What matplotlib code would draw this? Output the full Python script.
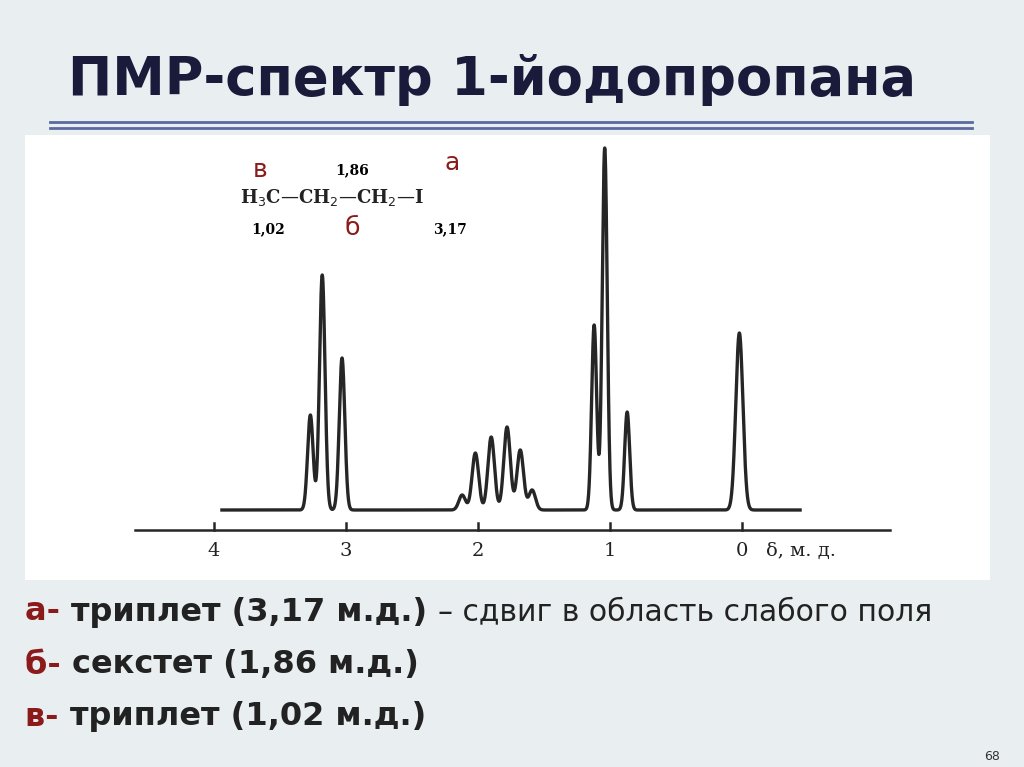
import numpy as np
import matplotlib
matplotlib.use("Agg")
import matplotlib.pyplot as plt

# Peak data: chemical shift (ppm) and relative height
peak_ppm = [3.27, 3.18, 3.03,
            2.12, 2.02, 1.90, 1.78, 1.68, 1.59,
            1.12, 1.04, 0.87,
            0.02]
peak_height = [95, 235, 152,
               15, 57, 73, 83, 60, 20,
               185, 362, 98,
               177]
peak_width = [0.021]*3 + [0.025]*6 + [0.019]*3 + [0.027]
tick_vals = [4, 3, 2, 1, 0]
tick_labels = ["4", "3", "2", "1", "0"]

fig = plt.figure(figsize=(10.24, 7.67), dpi=100)
fig.patch.set_facecolor("#e9eef0")

ax = fig.add_axes([25/1024, 1-580/767, 965/1024, 445/767])
ax.set_facecolor("white")
for s in ax.spines.values():
    s.set_visible(False)
ax.set_xticks([]); ax.set_yticks([])
ax.set_xlim((742-25)/132, (742-990)/132)
ax.set_ylim(0, 445)

baseline = 70
x = np.linspace(3.94, -0.44, 4000)
y = np.full_like(x, baseline, dtype=float)
for p, h, w in zip(peak_ppm, peak_height, peak_width):
    y += h * np.exp(-0.5*((x-p)/w)**2)
ax.plot(x, y, color="#262626", lw=2.4)

ax.plot([(742-135)/132, (742-890)/132], [50, 50], color="#262626", lw=1.8)
for t, lab in zip(tick_vals, tick_labels):
    ax.plot([t, t], [50, 57], color="#262626", lw=1.8)
    ax.text(t, 38, lab, ha="center", va="top", fontsize=14, family="DejaVu Serif", color="#222")
ax.text(-0.18, 38, "δ, м. д.", ha="left", va="top", fontsize=14, family="DejaVu Serif", color="#222")

def px(xp, yp):
    return (742-xp)/132, 580-yp
red = "#8b1a1a"
ax.text(*px(260, 170), "в", color=red, fontsize=18, ha="center", va="center")
ax.text(*px(452, 163), "а", color=red, fontsize=18, ha="center", va="center")
ax.text(*px(352, 228), "б", color=red, fontsize=18, ha="center", va="center")
ax.text(*px(352, 170), "1,86", fontsize=10, family="DejaVu Serif", ha="center", va="center", fontweight="bold")
ax.text(*px(268, 229), "1,02", fontsize=10, family="DejaVu Serif", ha="center", va="center", fontweight="bold")
ax.text(*px(450, 229), "3,17", fontsize=10, family="DejaVu Serif", ha="center", va="center", fontweight="bold")
ax.text(*px(240, 197), r"H$_3$C—CH$_2$—CH$_2$—I", fontsize=13, family="DejaVu Serif",
        ha="left", va="center", fontweight="bold", color="#222")

fig.text(68/1024, 1-80/767, "ПМР-спектр 1-йодопропана", fontsize=38, fontweight="bold",
         color="#1a1a3a", ha="left", va="center")
fig.add_artist(plt.Line2D([50/1024, 972/1024], [1-122/767]*2, color="#5a6aa0", lw=2))
fig.add_artist(plt.Line2D([50/1024, 972/1024], [1-128/767]*2, color="#5a6aa0", lw=2))

lines = [("а- ", "триплет (3,17 м.д.) ", "– сдвиг в область слабого поля", 612),
         ("б- ", "секстет (1,86 м.д.)", "", 665),
         ("в- ", "триплет (1,02 м.д.)", "", 717)]
r = fig.canvas.get_renderer()
for a, b, c, yp in lines:
    t1 = fig.text(25/1024, 1-yp/767, a, fontsize=23, color=red, va="center", fontweight="bold")
    bb = t1.get_window_extent(r)
    t2 = fig.text(bb.x1/1024, 1-yp/767, b, fontsize=23, color="#222", va="center", fontweight="bold")
    if c:
        bb2 = t2.get_window_extent(r)
        fig.text(bb2.x1/1024, 1-yp/767, c, fontsize=21.5, color="#222", va="center")
fig.text(1000/1024, 1-757/767, "68", fontsize=9, color="#333", ha="right", va="center")

fig.savefig("out.png", dpi=100, facecolor=fig.get_facecolor())
